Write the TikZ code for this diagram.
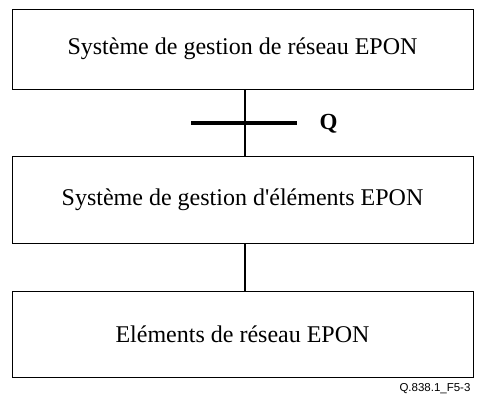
\documentclass[tikz,border=0pt]{standalone}
\usepackage{fontspec}
\setmainfont{Liberation Serif}
\newfontfamily\labelfont{Liberation Sans}
\begin{document}
\begin{tikzpicture}[x=1pt,y=-1pt,
  blk/.style={draw, line width=1pt, minimum width=461pt, minimum height=80pt, inner sep=0pt,
    font=\fontsize{24}{28}\selectfont},
  conn/.style={line width=2pt}]
\useasboundingbox (0,0) rectangle (478,399);
\node[blk, minimum height=80pt] (nms) at (242.5,49) {Système de gestion de réseau EPON};
\node[blk, minimum height=87pt] (ems) at (242.5,199.5) {Système de gestion d\textquotesingle éléments EPON};
\node[blk, minimum height=86pt] (ne) at (242.5,334) {Eléments de réseau EPON};
\draw[conn] (nms.south -| 245,0) -- (ems.north -| 245,0);
\draw[conn] (ems.south -| 245,0) -- (ne.north -| 245,0);
\coordinate (qa) at (191,123);
\coordinate (qb) at (297,123);
\draw[line width=4pt] (qa) -- (qb);
\node[font=\fontsize{23}{26}\selectfont\bfseries, anchor=west] (q) at (316,124) {Q};
\node[font=\labelfont\fontsize{11.5}{14}\selectfont, anchor=east] (fig) at (474,389) {Q.838.1\_F5-3};
\end{tikzpicture}
\end{document}
